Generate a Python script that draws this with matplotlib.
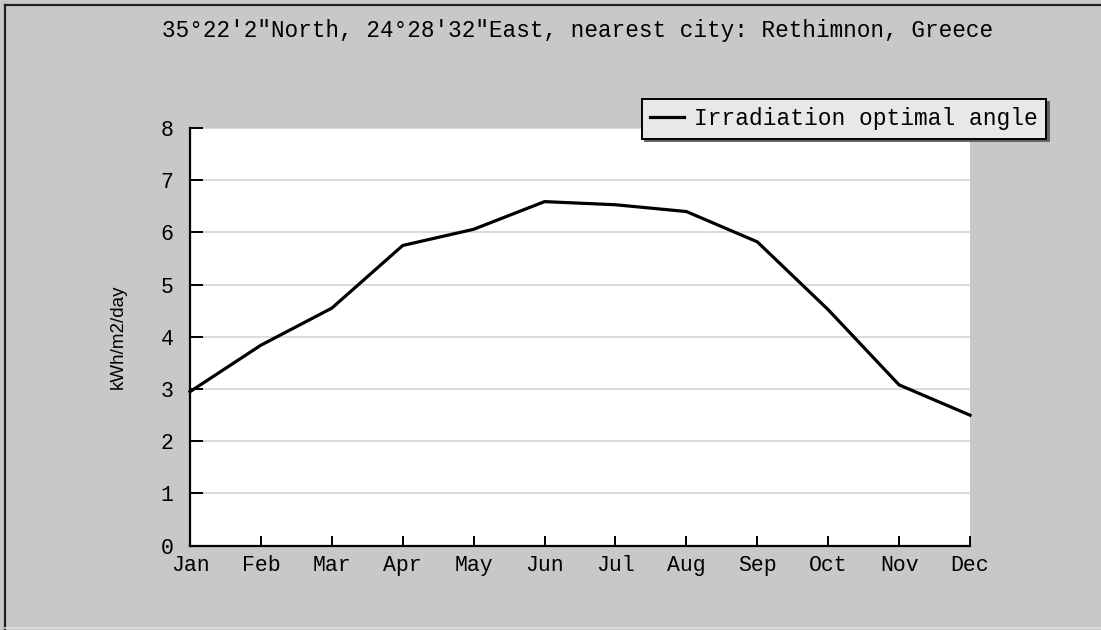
import matplotlib.pyplot as plt
from matplotlib.lines import Line2D

months = ["Jan", "Feb", "Mar", "Apr", "May", "Jun",
          "Jul", "Aug", "Sep", "Oct", "Nov", "Dec"]
irradiation = [2.95, 3.84, 4.55, 5.75, 6.06, 6.59,
               6.53, 6.40, 5.82, 4.52, 3.08, 2.50]
yticks = [0, 1, 2, 3, 4, 5, 6, 7, 8]

title = "35\u00b022\u20322\"North, 24\u00b028\u203232\"East, nearest city: Rethimnon, Greece"

MONO = "Liberation Mono"
BG = "#c8c8c8"

fig = plt.figure(figsize=(11.01, 6.30), dpi=100, facecolor=BG)
ax = fig.add_axes([190 / 1101, 1 - 545.7 / 630, 780 / 1101, 417.7 / 630])
ax.set_facecolor("white")

x = list(range(len(months)))
ax.plot(x, irradiation, color="black", lw=2.3, solid_joinstyle="round",
        label="Irradiation optimal angle", clip_on=False)

ax.set_xlim(0, len(months) - 1)
ax.set_ylim(0, 8)
ax.set_xticks(x)
ax.set_xticklabels(months)
ax.set_yticks(yticks)
ax.set_yticklabels([str(v) for v in yticks])

ax.yaxis.grid(True, color="#d4d4d4", lw=1.2)
ax.set_axisbelow(True)

for side in ("top", "right"):
    ax.spines[side].set_visible(False)
for side in ("left", "bottom"):
    ax.spines[side].set_linewidth(1.6)
    ax.spines[side].set_color("black")

ax.tick_params(axis="x", direction="in", length=7, width=1.4, pad=7,
               labelsize=15.5, colors="black")
ax.tick_params(axis="y", direction="in", length=9.5, width=1.4, pad=12,
               labelsize=15.5, colors="black")
for lbl in ax.get_xticklabels() + ax.get_yticklabels():
    lbl.set_fontfamily(MONO)

ax.set_ylabel("kWh/m2/day", fontfamily="Liberation Sans", fontsize=13.5,
              labelpad=24)

fig.text(0.5245, 0.952, title, ha="center", va="center",
         fontfamily=MONO, fontsize=16.3)

leg = ax.legend(loc="upper right", bbox_to_anchor=(1046 / 1101, 1 - 99 / 630),
                bbox_transform=fig.transFigure, frameon=True, fancybox=False,
                facecolor="#e8e8e8", edgecolor="black", framealpha=1,
                prop={"family": MONO, "size": 16.5}, handlelength=1.45,
                handletextpad=0.45, borderpad=0.36, borderaxespad=0,
                shadow={"color": "#646464", "alpha": 1})
leg.get_frame().set_linewidth(1.4)
for h in leg.get_lines():
    h.set_linewidth(2.3)

# outer frame: dark on top/left, light along the bottom
fig.add_artist(Line2D([5 / 1101, 1], [1 - 5 / 630, 1 - 5 / 630],
                      transform=fig.transFigure, color="#202020", lw=1.6))
fig.add_artist(Line2D([5 / 1101, 5 / 1101], [0, 1 - 5 / 630],
                      transform=fig.transFigure, color="#202020", lw=1.6))
fig.add_artist(Line2D([5 / 1101, 1], [2.5 / 630, 2.5 / 630],
                      transform=fig.transFigure, color="#e0e0e0", lw=1.2))

fig.savefig("out.png", dpi=100, facecolor=BG)
